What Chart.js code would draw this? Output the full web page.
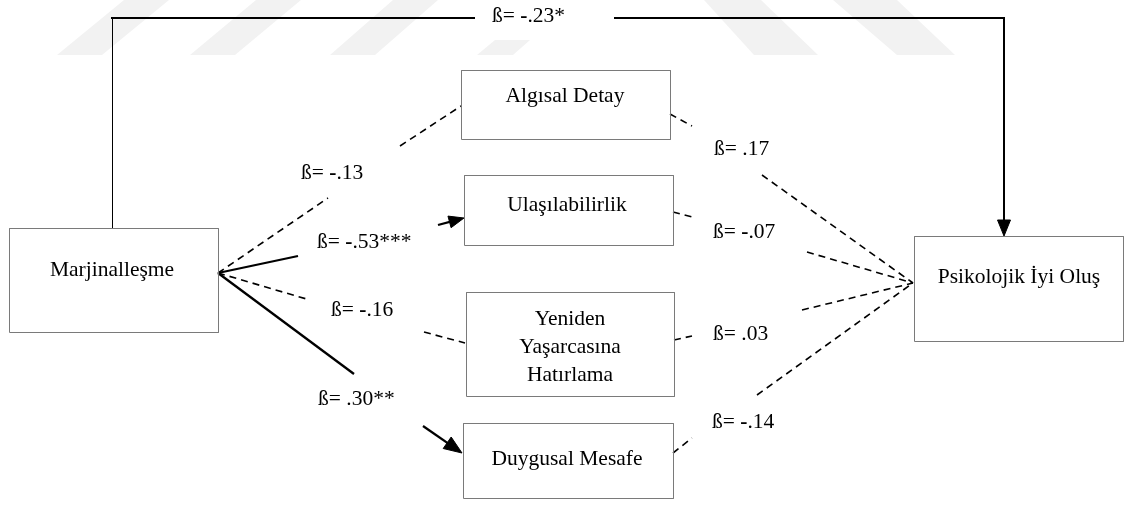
<!DOCTYPE html>
<html>
<head>
<meta charset="utf-8">
<script src="https://cdn.jsdelivr.net/npm/chart.js@4.4.1/dist/chart.umd.min.js"></script>
<style>
html,body{margin:0;padding:0;background:#fff;overflow:hidden;}
#wrap{width:1125px;height:509px;position:relative;}
canvas{display:block;}
</style>
</head>
<body>
<div id="wrap"><canvas id="c" width="1125" height="509"></canvas></div>
<script>
// ---- Nodes (boxes) ----
const nodeLabels = [['Marjinalleşme'], ['Algısal Detay'], ['Ulaşılabilirlik'], ['Yeniden', 'Yaşarcasına', 'Hatırlama'], ['Duygusal Mesafe'], ['Psikolojik İyi Oluş']];
const nodeLeft   = [9, 461, 464, 466, 463, 914];
const nodeTop    = [228, 70, 175, 292, 423, 236];
const nodeRight  = [218, 670, 673, 674, 673, 1123];
const nodeBottom = [332, 139, 245, 396, 498, 341];
const nodeTextX  = [112, 565, 567, 570, 567, 1019];
const nodeTextY  = [270, 96, 205, 347, 459, 277];

// ---- Path coefficients ----
const betaLabels = ['ß= -.23*', 'ß= -.13', 'ß= -.53***', 'ß= -.16', 'ß= .30**', 'ß= .17', 'ß= -.07', 'ß= .03', 'ß= -.14'];
const betaX = [492, 301, 317, 331, 318, 714, 713, 713, 712];
const betaY = [16, 173, 242, 310, 399, 149, 232, 334, 422];

// ---- Path segments ----
const pathPoints = [
  [[112, 228], [112, 17]],
  [[111, 18], [475, 18]],
  [[614, 18], [1004, 18], [1004, 236]],
  [[218, 273], [328, 198]],
  [[400, 146], [461, 106]],
  [[218, 273], [298, 256]],
  [[438, 225], [464, 218]],
  [[218, 273], [310, 300]],
  [[424, 332], [465, 343]],
  [[218, 273], [354, 374]],
  [[423, 426], [462, 453]],
  [[670, 114], [692, 126]],
  [[762, 175], [913, 283]],
  [[673, 212], [692, 217]],
  [[807, 252], [913, 283]],
  [[674, 340], [692, 336]],
  [[802, 310], [913, 283]],
  [[673, 453], [692, 438]],
  [[757, 395], [913, 283]]
];
const pathKind = ['thin', 'top', 'arrowTop', 'dash', 'dash', 'solid', 'arrow', 'dash', 'dash', 'solid', 'arrow',
                  'dash', 'dash', 'dash', 'dash', 'dash', 'dash', 'dash', 'dash'];
const arrowLen  = [16, 15, 18];
const arrowHalf = [6.5, 6, 7];

// ---- Faint watermark stripes (background) ----
const markPolys = [
  [[57, 55], [102, 55], [169, 0], [124, 0]],
  [[190, 55], [235, 55], [301, 0], [256, 0]],
  [[330, 55], [375, 55], [438, 0], [393, 0]],
  [[477, 55], [513, 55], [530, 40], [495, 40]],
  [[704, 0], [761, 0], [818, 55], [754, 55]],
  [[833, 0], [897, 0], [955, 55], [897, 55]]
];

const kindStyle = {
  thin:     {w: 1,   dash: []},
  top:      {w: 2,   dash: []},
  arrowTop: {w: 2,   dash: []},
  dash:     {w: 1.6, dash: [7, 5]},
  solid:    {w: 2.3, dash: []},
  arrow:    {w: 2.3, dash: []}
};

const toPts = arr => arr.map(p => ({x: p[0], y: p[1]}));
const datasets = [];
const base = {showLine: true, pointRadius: 0, pointHoverRadius: 0, fill: false, tension: 0, order: 0};

// boxes
for (let i = 0; i < nodeLabels.length; i++) {
  const l = nodeLeft[i] + 0.5, r = nodeRight[i] + 0.5, t = nodeTop[i] + 0.5, b = nodeBottom[i] + 0.5;
  datasets.push(Object.assign({}, base, {
    data: [{x: l, y: t}, {x: r, y: t}, {x: r, y: b}, {x: l, y: b}, {x: l, y: t}],
    borderColor: '#7a7a7a', borderWidth: 1, borderCapStyle: 'square', borderJoinStyle: 'miter'
  }));
}

// paths
let arrowIdx = 0;
pathPoints.forEach((pts, i) => {
  const kind = pathKind[i];
  const st = kindStyle[kind];
  let p = pts.map(q => q.slice());
  if (st.w === 1) p = p.map(q => [q[0] + 0.5, q[1]]);
  if (kind === 'arrow' || kind === 'arrowTop') {
    const len = arrowLen[arrowIdx], half = arrowHalf[arrowIdx];
    arrowIdx++;
    const p0 = p[p.length - 2], p1 = p[p.length - 1];
    const dx = p1[0] - p0[0], dy = p1[1] - p0[1], d = Math.hypot(dx, dy);
    const ux = dx / d, uy = dy / d;
    const bx = p1[0] - ux * len, by = p1[1] - uy * len;
    datasets.push(Object.assign({}, base, {
      data: toPts([p1, [bx - uy * half, by + ux * half], [bx + uy * half, by - ux * half], p1]),
      borderColor: '#000', backgroundColor: '#000', borderWidth: 1, fill: 'shape', borderJoinStyle: 'miter'
    }));
    p[p.length - 1] = [p1[0] - ux * len * 0.6, p1[1] - uy * len * 0.6];
  }
  datasets.push(Object.assign({}, base, {
    data: toPts(p),
    borderColor: '#000', borderWidth: st.w, borderDash: st.dash, borderJoinStyle: 'miter', borderCapStyle: 'butt'
  }));
});

// watermark
markPolys.forEach(poly => {
  datasets.push(Object.assign({}, base, {
    data: toPts(poly.concat([poly[0]])),
    borderWidth: 0, borderColor: 'rgba(0,0,0,0)', backgroundColor: '#f2f2f2', fill: 'shape', order: 10
  }));
});

const FONT = '21.5px "Liberation Serif", "Times New Roman", serif';
const FONT_B = 'bold 21.5px "Liberation Serif", "Times New Roman", serif';

const textPlugin = {
  id: 'diagramText',
  afterDatasetsDraw(chart) {
    const ctx = chart.ctx, xs = chart.scales.x, ys = chart.scales.y;
    ctx.save();
    ctx.fillStyle = '#000';
    ctx.font = FONT;
    ctx.textBaseline = 'middle';
    ctx.textAlign = 'center';
    nodeLabels.forEach((lines, i) => {
      const n = lines.length;
      lines.forEach((t, j) => {
        const yv = nodeTextY[i] + (j - (n - 1) / 2) * 28;
        ctx.fillText(t, xs.getPixelForValue(nodeTextX[i]), ys.getPixelForValue(yv));
      });
    });
    ctx.textAlign = 'left';
    betaLabels.forEach((t, i) => {
      let px = xs.getPixelForValue(betaX[i]);
      const py = ys.getPixelForValue(betaY[i]);
      const parts = t.split('-');
      parts.forEach((part, k) => {
        if (k > 0) {
          ctx.font = FONT_B;
          ctx.fillText('-', px, py);
          px += ctx.measureText('-').width;
          ctx.font = FONT;
        }
        ctx.fillText(part, px, py);
        px += ctx.measureText(part).width;
      });
    });
    ctx.restore();
  }
};

new Chart(document.getElementById('c'), {
  type: 'scatter',
  data: {datasets: datasets},
  options: {
    responsive: false,
    animation: false,
    events: [],
    layout: {padding: 0},
    plugins: {legend: {display: false}, tooltip: {enabled: false}},
    scales: {
      x: {type: 'linear', min: 0, max: 1125, display: false},
      y: {type: 'linear', min: 0, max: 509, reverse: true, display: false}
    }
  },
  plugins: [textPlugin]
});
</script>
</body>
</html>
